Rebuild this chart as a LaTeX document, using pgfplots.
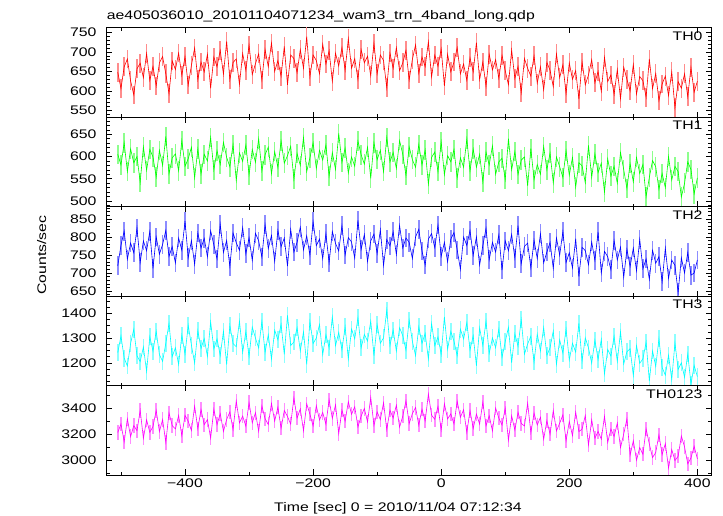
\documentclass[border=0pt]{standalone}
\usepackage{fontspec}
\setmainfont{Liberation Sans}[FakeStretch=1.27]
\usepackage{pgfplots}
\pgfplotsset{compat=1.18}
\usepackage{pgfplotstable}

\definecolor{cR}{RGB}{255,0,0}
\definecolor{cG}{RGB}{0,255,0}
\definecolor{cB}{RGB}{0,0,255}
\definecolor{cC}{RGB}{0,255,255}
\definecolor{cM}{RGB}{255,0,255}

\pgfplotstableread{
t a b c d e
-505 648 605 720 1241 3214
-500 606 581 777 1309 3280
-495 662 631 816 1219 3143
-490 682 566 738 1187 3319
-485 626 617 783 1278 3182
-480 590 586 756 1336 3267
-475 657 600 825 1228 3228
-470 671 542 729 1205 3384
-465 634 622 789 1264 3169
-460 696 569 762 1165 3312
-455 627 616 815 1306 3215
-450 663 599 713 1247 3260
-445 613 554 800 1328 3384
-440 672 614 752 1233 3221
-435 688 580 779 1206 3313
-430 644 645 818 1279 3137
-425 593 561 746 1360 3365
-420 677 597 773 1225 3267
-415 655 606 728 1261 3241
-410 697 568 797 1193 3345
-405 640 636 763 1312 3189
-400 688 578 844 1235 3346
-395 615 595 742 1352 3300
-390 666 621 790 1271 3229
-385 710 552 724 1199 3417
-380 629 617 811 1330 3242
-375 674 561 769 1258 3391
-370 649 605 796 1298 3274
-365 694 590 745 1226 3313
-360 607 643 817 1366 3170
-355 687 570 778 1256 3392
-350 662 613 739 1297 3275
-345 704 582 835 1229 3359
-340 643 632 757 1328 3222
-335 727 598 790 1193 3314
-330 629 577 718 1351 3372
-325 673 627 811 1278 3236
-320 682 546 784 1265 3457
-315 617 608 763 1369 3288
-310 696 589 826 1242 3340
-305 653 626 753 1327 3262
-300 718 559 798 1224 3444
-295 642 616 735 1345 3288
-290 670 587 810 1300 3366
-285 695 640 789 1260 3223
-280 628 568 744 1368 3418
-275 706 604 834 1242 3320
-270 662 621 768 1314 3275
-265 723 561 804 1215 3438
-260 650 611 732 1332 3301
-255 678 575 818 1293 3409
-250 638 635 773 1356 3246
-245 714 585 797 1234 3383
-240 616 602 719 1392 3337
-235 692 623 821 1270 3278
-230 683 549 758 1284 3480
-225 647 607 785 1342 3324
-220 706 580 827 1248 3396
-215 658 643 764 1325 3227
-210 739 566 803 1194 3435
-205 636 597 749 1368 3355
-200 692 631 842 1278 3264
-195 678 573 776 1300 3420
-190 644 614 794 1355 3310
-185 720 592 740 1233 3368
-180 669 626 809 1314 3277
-175 703 556 728 1260 3466
-170 625 609 815 1386 3322
-165 697 571 782 1269 3427
-160 664 652 761 1323 3205
-155 711 587 831 1252 3386
-150 653 619 750 1346 3301
-145 734 563 798 1216 3451
-140 658 599 786 1337 3354
-135 683 578 741 1297 3412
-130 630 635 846 1382 3256
-125 706 604 765 1261 3340
-120 672 583 807 1315 3399
-115 689 621 732 1288 3295
-110 639 551 789 1369 3484
-105 722 631 808 1229 3268
-100 644 593 754 1355 3372
-95 692 614 820 1279 3313
-90 678 566 721 1301 3443
-85 608 643 793 1414 3235
-80 697 588 775 1270 3385
-75 658 609 814 1333 3326
-70 711 573 751 1247 3424
-65 652 636 832 1342 3255
-60 672 605 769 1310 3339
-55 704 557 797 1251 3458
-50 628 622 785 1373 3282
-45 681 593 740 1287 3360
-40 718 576 800 1229 3406
-35 645 627 821 1346 3269
-30 687 581 761 1278 3393
-25 662 615 722 1319 3302
-20 726 538 794 1215 3510
-15 636 598 809 1359 3347
-10 692 610 770 1269 3315
-5 663 566 833 1305 3415
0 708 633 746 1233 3233
5 613 559 785 1386 3435
10 694 602 731 1255 3318
15 649 588 794 1327 3357
20 674 616 812 1287 3279
25 711 552 764 1228 3454
30 644 597 710 1336 3331
35 669 576 800 1296 3389
40 627 640 776 1363 3214
45 685 567 818 1252 3382
50 649 617 749 1310 3245
55 724 576 800 1188 3356
60 629 605 722 1342 3278
65 674 543 776 1270 3447
70 612 610 824 1369 3265
75 694 581 737 1238 3343
80 654 624 785 1301 3226
85 680 560 758 1261 3402
90 632 588 806 1337 3324
95 691 596 708 1222 3271
100 652 548 789 1285 3401
105 616 640 762 1344 3154
110 705 570 807 1200 3343
115 632 611 741 1317 3232
120 663 560 831 1267 3369
125 596 592 726 1375 3284
130 683 599 774 1235 3264
135 658 534 783 1276 3440
140 638 618 714 1308 3212
145 690 548 791 1203 3363
150 620 582 740 1316 3272
155 662 560 809 1248 3331
160 603 623 728 1343 3162
165 673 570 758 1230 3305
170 653 608 785 1261 3200
175 611 541 713 1329 3383
180 695 599 797 1194 3226
185 634 577 749 1293 3285
190 667 553 815 1239 3350
195 593 613 729 1337 3150
200 672 558 756 1211 3299
205 630 598 714 1279 3189
210 652 531 795 1243 3371
215 579 586 690 1360 3221
220 674 579 771 1207 3240
225 616 541 762 1301 3345
230 641 625 723 1260 3117
235 680 553 786 1198 3312
240 621 606 735 1292 3169
245 650 564 814 1213 3222
250 599 585 700 1295 3163
255 686 520 760 1155 3339
260 624 595 745 1254 3137
265 641 556 709 1227 3241
270 591 578 790 1308 3183
275 655 540 736 1205 3287
280 580 609 772 1326 3098
285 661 571 688 1195 3202
290 630 528 766 1245 3319
295 600 584 718 1257 3040
300 668 543 769 1148 3151
305 592 598 706 1270 3001
310 637 562 793 1198 3098
315 626 582 712 1216 3046
320 584 510 739 1284 3242
325 682 553 682 1126 3125
330 606 591 763 1248 3021
335 645 577 727 1185 3060
340 575 526 745 1297 3196
345 618 562 676 1181 3044
350 638 530 769 1150 3129
355 588 600 685 1231 2940
360 649 547 736 1132 3083
365 557 578 721 1281 2998
370 624 566 646 1173 3031
375 607 509 742 1200 3187
380 644 540 700 1141 3103
385 585 588 757 1236 2973
390 660 571 694 1114 3018
395 597 516 700 1189 3108
400 625 552 736 1144 3011
}\lc

\tikzset{lab/.style={anchor=north east, inner sep=0pt, xshift=-8.3bp, yshift=-4bp}}

\pgfplotsset{
  panel/.style={
    scale only axis, width=604.3bp, height=89.46bp,
    anchor=south west,
    xmin=-522.3, xmax=421.3,
    axis line style={line width=0.9bp, black},
    tick align=inside, xtick pos=both, ytick pos=both,
    major tick length=5.5bp, minor tick length=3bp,
    every tick/.style={black, line width=0.6bp},
    xtick={-400,-200,0,200,400},
    minor xtick={-500,-300,-100,100,300},
    xticklabels={},
    yticklabel pos=left,
    /pgf/number format/assume math mode=true,
    /pgf/number format/1000 sep={},
    tick label style={font=\fontsize{12.5}{14}\selectfont},
    yticklabel style={inner sep=0pt, anchor=east, xshift=-10bp},
    xticklabel style={inner sep=0pt, anchor=north, yshift=-4bp},
  },
  eb/.style n args={2}{draw=none, mark=none, forget plot,
    error bars/.cd, y dir=both, y fixed=#2, error mark=none,
    error bar style={draw=#1!45, line width=1.5bp}},
  ln/.style={#1, line width=0.6bp},
}

\begin{document}
\begin{tikzpicture}[font=\fontsize{12.5}{14}\selectfont]
% TH0
\begin{axis}[panel, at={(0,357.84bp)}, ymin=533, ymax=762, ytick distance=50, minor y tick num=4]
\addplot[eb={cR}{24}] table[x=t,y=a]{\lc};
\addplot[ln=cR] table[x=t,y=a]{\lc};
\node[lab] at (rel axis cs:1,1) {TH0};
\end{axis}
% TH1
\begin{axis}[panel, at={(0,268.38bp)}, ymin=487.4, ymax=688.5, ytick distance=50, minor y tick num=4]
\addplot[eb={cG}{22}] table[x=t,y=b]{\lc};
\addplot[ln=cG] table[x=t,y=b]{\lc};
\node[lab] at (rel axis cs:1,1) {TH1};
\end{axis}
% TH2
\begin{axis}[panel, at={(0,178.92bp)}, ymin=636, ymax=884, ytick distance=50, minor y tick num=4]
\addplot[eb={cB}{26}] table[x=t,y=c]{\lc};
\addplot[ln=cB] table[x=t,y=c]{\lc};
\node[lab] at (rel axis cs:1,1) {TH2};
\end{axis}
% TH3
\begin{axis}[panel, at={(0,89.46bp)}, ymin=1108, ymax=1470, ytick distance=100, minor y tick num=3]
\addplot[eb={cC}{34}] table[x=t,y=d]{\lc};
\addplot[ln=cC] table[x=t,y=d]{\lc};
\node[lab] at (rel axis cs:1,1) {TH3};
\end{axis}
% TH0123
\begin{axis}[panel, at={(0,0)}, ymin=2887, ymax=3575, ytick distance=200, minor y tick num=1,
  xticklabels={−400,−200,0,200,400}]
\addplot[eb={cM}{55}] table[x=t,y=e]{\lc};
\addplot[ln=cM] table[x=t,y=e]{\lc};
\node[lab] at (rel axis cs:1,1) {TH0123};
\end{axis}
\node[anchor=base west, inner sep=0pt] at (0,455.5bp) {ae405036010\_20101104071234\_wam3\_trn\_4band\_long.qdp};
\node[rotate=90, anchor=center, inner sep=0pt] at (-65bp,220bp) {Counts/sec};
\node[anchor=base, inner sep=0pt] at (291.3bp,-36.7bp) {Time [sec] 0 = 2010/11/04 07:12:34};
\path[use as bounding box] (-106.7bp,-41bp) rectangle (616.3bp,475bp);
\end{tikzpicture}
\end{document}
